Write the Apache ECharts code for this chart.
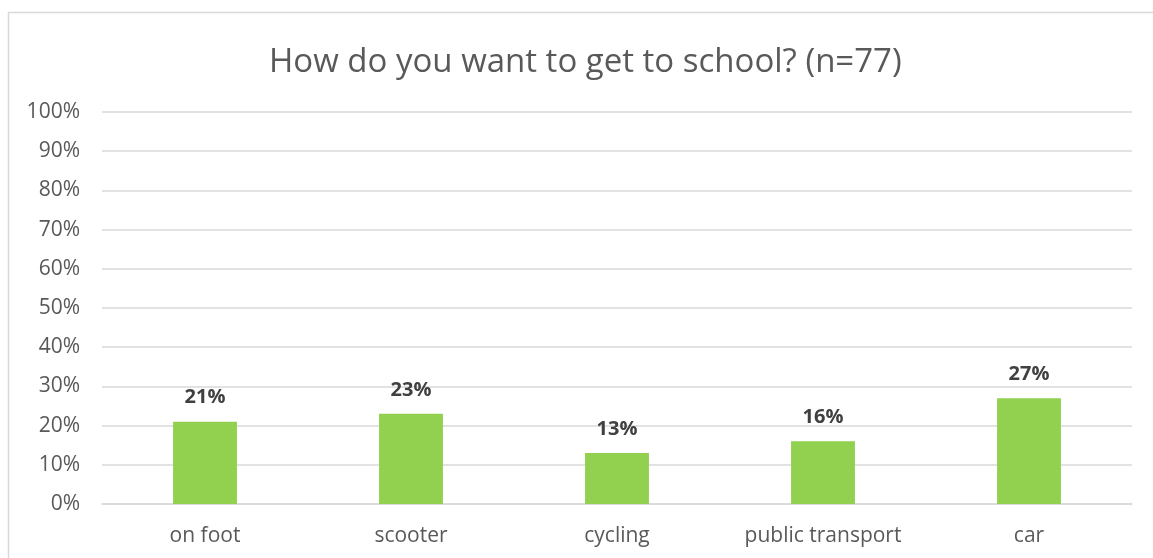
<!DOCTYPE html>
<html>
<head>
<meta charset="utf-8">
<script src="https://cdn.jsdelivr.net/npm/echarts@6/dist/echarts.min.js"></script>
<style>
  html, body { margin: 0; padding: 0; background: #fff; }
  #chart { width: 1153px; height: 558px; }
</style>
</head>
<body>
<div id="chart"></div>
<script>
// Preferred way to get to school, share of respondents (%)
const categories = ['on foot', 'scooter', 'cycling', 'public transport', 'car'];
const shares = [21, 23, 13, 16, 27];
const titleText = 'How do you want to get to school? (n=77)';

const FONT = '"Open Sans", "Noto Sans", sans-serif';
const chart = echarts.init(document.getElementById('chart'), null, { renderer: 'canvas' });

chart.setOption({
  animation: false,
  backgroundColor: '#ffffff',
  title: {
    text: titleText,
    left: 264,
    top: 41,
    textStyle: { fontFamily: FONT, fontSize: 33, fontWeight: 'normal', color: '#595959' }
  },
  graphic: [{
    type: 'rect',
    shape: { x: 8.5, y: 12.5, width: 1160, height: 560 },
    style: { fill: 'none', stroke: '#d9d9d9', lineWidth: 1.5 },
    silent: true
  }],
  grid: { left: 102, right: 21, top: 112, bottom: 54, containLabel: false },
  xAxis: {
    type: 'category',
    data: categories,
    axisLine: { show: true, lineStyle: { color: '#d9d9d9', width: 1.5 } },
    axisTick: { show: false },
    axisLabel: { fontFamily: FONT, fontSize: 21, color: '#595959', margin: 22 }
  },
  yAxis: {
    type: 'value',
    min: 0,
    max: 100,
    interval: 10,
    axisLine: { show: false },
    axisTick: { show: false },
    splitLine: { lineStyle: { color: '#d9d9d9', width: 1.5 } },
    axisLabel: { fontFamily: FONT, fontSize: 21, color: '#595959', margin: 22, formatter: '{value}%' }
  },
  series: [{
    type: 'bar',
    data: shares,
    barWidth: '31%',
    itemStyle: { color: '#92d050' },
    label: {
      show: true,
      position: 'top',
      distance: 14,
      formatter: '{c}%',
      fontFamily: FONT,
      fontSize: 20,
      fontWeight: 'bold',
      color: '#404040'
    }
  }]
});
</script>
</body>
</html>
